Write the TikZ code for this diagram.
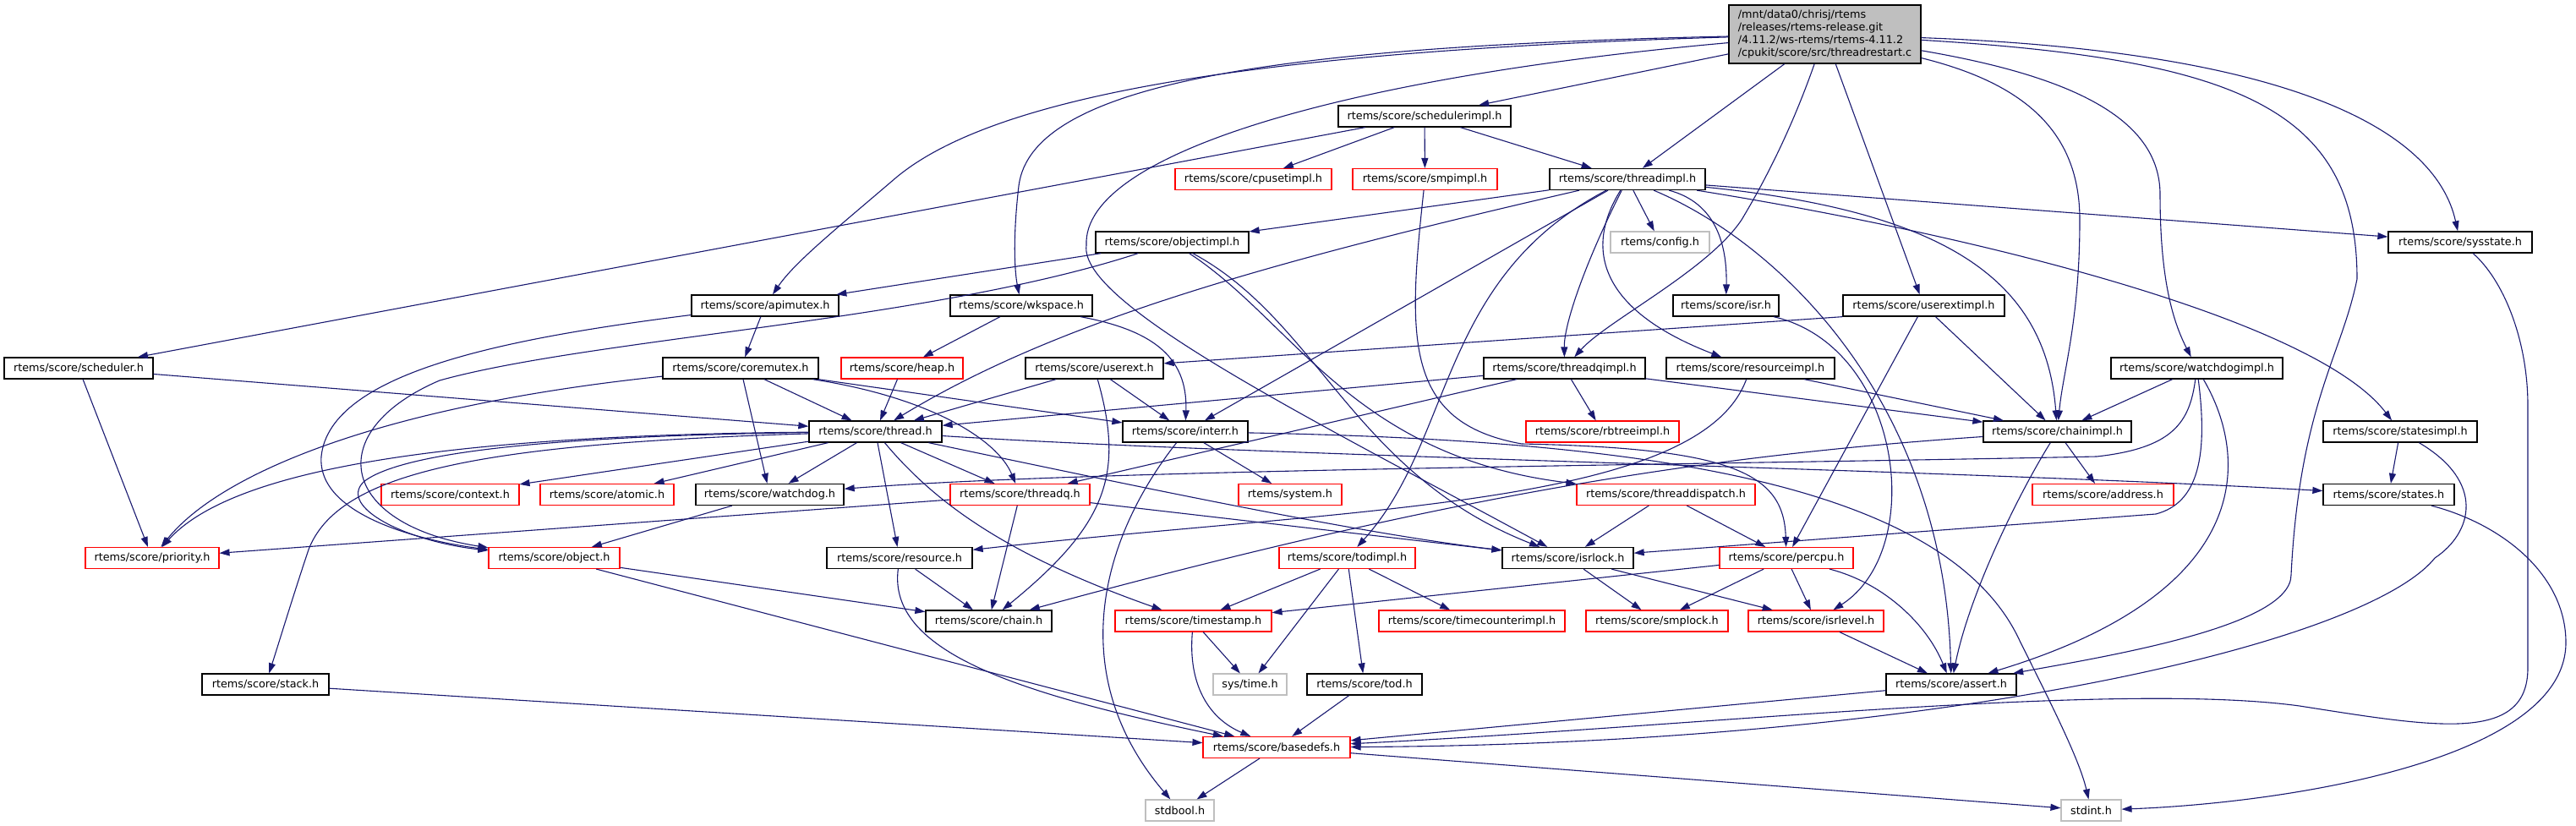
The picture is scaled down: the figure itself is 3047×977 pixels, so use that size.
\documentclass[tikz,border=0pt]{standalone}
\usepackage{fontspec}
\setmainfont{DejaVu Sans}
\usepackage{tikz}
\usetikzlibrary{arrows.meta}
\definecolor{inclblue}{HTML}{191970}
\definecolor{truncred}{HTML}{FF0000}
\definecolor{sysgray}{HTML}{BFBFBF}
\tikzset{>={Triangle[length=12pt,width=8pt]}}
\tikzset{
	hfile/.style={draw=black,line width=1.3pt,fill=white,minimum height=25pt,inner sep=0pt,font=\fontsize{12.8}{15}\selectfont},
	hred/.style={hfile,draw=truncred,line width=1.1pt},
	hgray/.style={hfile,draw=sysgray,line width=1.1pt},
	incl/.style={->,draw=inclblue,line width=1.1pt},
}

\begin{document}
\begin{tikzpicture}[x=1pt,y=-1pt]
	\useasboundingbox (0,0) rectangle (3047,977);

	% the file itself
	\node[hfile,fill=sysgray,minimum width=227pt,minimum height=69pt,align=left] (root) at (2158.5,40.5)
		{/mnt/data0/chrisj/rtems\\/releases/rtems-release.git\\/4.11.2/ws-rtems/rtems-4.11.2\\/cpukit/score/src/threadrestart.c};

	% included headers, row by row
	\node[hfile,minimum width=204pt] (schedimpl) at (1685,137.5) {rtems/score/schedulerimpl.h};
	\node[hred,minimum width=185pt] (cpusetimpl) at (1482.5,212) {rtems/score/cpusetimpl.h};
	\node[hred,minimum width=171pt] (smpimpl) at (1685.5,212) {rtems/score/smpimpl.h};
	\node[hfile,minimum width=184pt] (threadimpl) at (1925,212) {rtems/score/threadimpl.h};
	\node[hfile,minimum width=181pt] (objectimpl) at (1386.5,286.5) {rtems/score/objectimpl.h};
	\node[hgray,minimum width=117pt] (config) at (1963.5,286.5) {rtems/config.h};
	\node[hfile,minimum width=170pt] (sysstate) at (2910,286.5) {rtems/score/sysstate.h};
	\node[hfile,minimum width=174pt] (apimutex) at (905,361.5) {rtems/score/apimutex.h};
	\node[hfile,minimum width=168pt] (wkspace) at (1208,361.5) {rtems/score/wkspace.h};
	\node[hfile,minimum width=125pt] (isr) at (2041.5,361.5) {rtems/score/isr.h};
	\node[hfile,minimum width=191pt] (userextimpl) at (2275.5,361.5) {rtems/score/userextimpl.h};
	\node[hfile,minimum width=176pt] (scheduler) at (93,435.5) {rtems/score/scheduler.h};
	\node[hfile,minimum width=184pt] (coremutex) at (876,435.5) {rtems/score/coremutex.h};
	\node[hred,minimum width=144pt] (heap) at (1067,435.5) {rtems/score/heap.h};
	\node[hfile,minimum width=163pt] (userext) at (1294.5,435.5) {rtems/score/userext.h};
	\node[hfile,minimum width=191pt] (threadqimpl) at (1850.5,435.5) {rtems/score/threadqimpl.h};
	\node[hfile,minimum width=199pt] (resourceimpl) at (2070.5,435.5) {rtems/score/resourceimpl.h};
	\node[hfile,minimum width=203pt] (watchdogimpl) at (2598.5,435.5) {rtems/score/watchdogimpl.h};
	\node[hfile,minimum width=157pt] (thread) at (1035.5,510.5) {rtems/score/thread.h};
	\node[hfile,minimum width=148pt] (interr) at (1402,510.5) {rtems/score/interr.h};
	\node[hred,minimum width=181pt] (rbtreeimpl) at (1895.5,510.5) {rtems/score/rbtreeimpl.h};
	\node[hfile,minimum width=175pt] (chainimpl) at (2433.5,510.5) {rtems/score/chainimpl.h};
	\node[hfile,minimum width=182pt] (statesimpl) at (2839,510.5) {rtems/score/statesimpl.h};
	\node[hred,minimum width=163pt] (context) at (532.5,585) {rtems/score/context.h};
	\node[hred,minimum width=158pt] (atomic) at (718,585) {rtems/score/atomic.h};
	\node[hfile,minimum width=175pt] (watchdog) at (910.5,585) {rtems/score/watchdog.h};
	\node[hred,minimum width=165pt] (threadq) at (1206.5,585) {rtems/score/threadq.h};
	\node[hred,minimum width=122pt] (system) at (1526,585) {rtems/system.h};
	\node[hred,minimum width=211pt] (threaddisp) at (1970.5,585) {rtems/score/threaddispatch.h};
	\node[hred,minimum width=167pt] (address) at (2487.5,585) {rtems/score/address.h};
	\node[hfile,minimum width=155pt] (states) at (2825.5,585) {rtems/score/states.h};
	\node[hred,minimum width=158pt] (priority) at (180,660) {rtems/score/priority.h};
	\node[hred,minimum width=155pt] (object) at (655.5,660) {rtems/score/object.h};
	\node[hfile,minimum width=172pt] (resource) at (1064,660) {rtems/score/resource.h};
	\node[hred,minimum width=161pt] (todimpl) at (1593.5,660) {rtems/score/todimpl.h};
	\node[hfile,minimum width=155pt] (isrlock) at (1854.5,660) {rtems/score/isrlock.h};
	\node[hred,minimum width=158pt] (percpu) at (2113,660) {rtems/score/percpu.h};
	\node[hfile,minimum width=149pt] (chain) at (1169.5,734.5) {rtems/score/chain.h};
	\node[hred,minimum width=185pt] (timestamp) at (1411.5,734.5) {rtems/score/timestamp.h};
	\node[hred,minimum width=220pt] (tcimpl) at (1741,734.5) {rtems/score/timecounterimpl.h};
	\node[hred,minimum width=168pt] (smplock) at (1960,734.5) {rtems/score/smplock.h};
	\node[hred,minimum width=160pt] (isrlevel) at (2148,734.5) {rtems/score/isrlevel.h};
	\node[hfile,minimum width=150pt] (stack) at (314,809.5) {rtems/score/stack.h};
	\node[hgray,minimum width=87pt] (systime) at (1478.5,809.5) {sys/time.h};
	\node[hfile,minimum width=136pt] (tod) at (1614,809.5) {rtems/score/tod.h};
	\node[hfile,minimum width=154pt] (assert) at (2308,809.5) {rtems/score/assert.h};
	\node[hred,minimum width=174pt] (basedefs) at (1510,884) {rtems/score/basedefs.h};
	\node[hgray,minimum width=81pt] (stdbool) at (1395.5,958.5) {stdbool.h};
	\node[hgray,minimum width=71pt] (stdint) at (2473.5,958.5) {stdint.h};

	% includes of threadrestart.c
	\draw[incl] (root) -- (schedimpl);
	\draw[incl] (root) -- (threadimpl);
	\draw[incl] (root) -- (userextimpl);
	\draw[incl] (root) .. controls (2120,150) and (2090,210) .. (2060,260) .. controls (2020,320) and (1900,380) .. (threadqimpl);
	\draw[incl] (root) .. controls (1500,60) and (1180,110) .. (1060,210) .. controls (990,270) and (940,310) .. (apimutex);
	\draw[incl] (root) .. controls (1500,55) and (1220,100) .. (1205,220) .. controls (1198,280) and (1200,320) .. (wkspace);
	\draw[incl] (root) .. controls (1600,90) and (1280,180) .. (1285,290) .. controls (1275,360) and (1560,500) .. (isrlock);
	\draw[incl] (root) .. controls (2700,60) and (2880,150) .. (sysstate);
	\draw[incl] (root) .. controls (2400,100) and (2460,160) .. (2460,260) .. controls (2460,380) and (2440,440) .. (chainimpl);
	\draw[incl] (root) .. controls (2450,90) and (2555,140) .. (2555,230) .. controls (2555,330) and (2570,380) .. (watchdogimpl);
	\draw[incl] (root) .. controls (2650,70) and (2788,130) .. (2788,330) .. controls (2770,420) and (2720,480) .. (2710,680) .. controls (2710,740) and (2500,775) .. (assert);

	% schedulerimpl.h
	\draw[incl] (schedimpl) -- (scheduler);
	\draw[incl] (schedimpl) -- (cpusetimpl);
	\draw[incl] (schedimpl) -- (smpimpl);
	\draw[incl] (schedimpl) -- (threadimpl);
	\draw[incl] (smpimpl) .. controls (1665,400) and (1660,500) .. (1800,525) .. controls (2050,530) and (2110,560) .. (percpu);

	% threadimpl.h
	\draw[incl] (threadimpl) -- (objectimpl);
	\draw[incl] (threadimpl) -- (config);
	\draw[incl] (threadimpl) -- (interr);
	\draw[incl] (threadimpl) -- (sysstate);
	\draw[incl] (threadimpl) .. controls (1500,310) and (1250,380) .. (thread);
	\draw[incl] (threadimpl) .. controls (1700,330) and (1720,520) .. (todimpl);
	\draw[incl] (threadimpl) .. controls (1880,300) and (1850,380) .. (threadqimpl);
	\draw[incl] (threadimpl) .. controls (1870,300) and (1900,370) .. (resourceimpl);
	\draw[incl] (threadimpl) .. controls (2030,240) and (2043,290) .. (isr);
	\draw[incl] (threadimpl) .. controls (2300,250) and (2420,330) .. (chainimpl);
	\draw[incl] (threadimpl) .. controls (2110,290) and (2300,480) .. (assert);
	\draw[incl] (threadimpl) .. controls (2350,280) and (2740,380) .. (statesimpl);

	% objectimpl.h, apimutex.h, wkspace.h
	\draw[incl] (objectimpl) -- (apimutex);
	\draw[incl] (objectimpl) .. controls (1100,380) and (700,400) .. (520,450) .. controls (380,510) and (400,620) .. (object);
	\draw[incl] (objectimpl) .. controls (1560,380) and (1600,560) .. (isrlock);
	\draw[incl] (objectimpl) .. controls (1530,380) and (1600,540) .. (threaddisp);
	\draw[incl] (apimutex) -- (coremutex);
	\draw[incl] (apimutex) .. controls (600,400) and (390,440) .. (380,540) .. controls (375,610) and (500,640) .. (object);
	\draw[incl] (wkspace) -- (heap);
	\draw[incl] (wkspace) .. controls (1360,390) and (1405,420) .. (interr);

	% isr.h, userextimpl.h
	\draw[incl] (isr) .. controls (2250,410) and (2280,650) .. (isrlevel);
	\draw[incl] (userextimpl.south west) -- (userext);
	\draw[incl] (userextimpl) -- (chainimpl);
	\draw[incl] (userextimpl) -- (percpu);

	% scheduler.h, coremutex.h, heap.h, userext.h
	\draw[incl] (scheduler) -- (priority);
	\draw[incl] (scheduler) -- (thread);
	\draw[incl] (coremutex) .. controls (450,480) and (260,560) .. (priority);
	\draw[incl] (coremutex) -- (thread);
	\draw[incl] (coremutex) -- (watchdog);
	\draw[incl] (coremutex) -- (interr);
	\draw[incl] (coremutex) .. controls (1100,470) and (1180,520) .. (threadq);
	\draw[incl] (heap) -- (thread);
	\draw[incl] (userext) -- (thread);
	\draw[incl] (userext) -- (interr);
	\draw[incl] (userext) .. controls (1330,560) and (1310,620) .. (chain);

	% threadqimpl.h, resourceimpl.h, watchdogimpl.h
	\draw[incl] (threadqimpl) -- (thread);
	\draw[incl] (threadqimpl) -- (threadq);
	\draw[incl] (threadqimpl) -- (rbtreeimpl);
	\draw[incl] (threadqimpl) -- (chainimpl);
	\draw[incl] (resourceimpl) -- (chainimpl);
	\draw[incl] (resourceimpl) .. controls (2010,600) and (1600,600) .. (resource);
	\draw[incl] (watchdogimpl) -- (chainimpl);
	\draw[incl] (watchdogimpl) .. controls (2590,500) and (2570,530) .. (2480,540) .. controls (2000,550) and (1300,555) .. (watchdog);
	\draw[incl] (watchdogimpl) .. controls (2612,540) and (2600,595) .. (2550,608) -- (isrlock);
	\draw[incl] (watchdogimpl) .. controls (2660,540) and (2670,700) .. (assert);

	% thread.h
	\draw[incl] (thread) .. controls (500,515) and (270,560) .. (priority);
	\draw[incl] (thread) .. controls (700,515) and (480,530) .. (430,570) .. controls (400,600) and (480,640) .. (object);
	\draw[incl] (thread) .. controls (560,525) and (400,560) .. (365,650) .. controls (345,710) and (330,760) .. (stack);
	\draw[incl] (thread) -- (context);
	\draw[incl] (thread) -- (atomic);
	\draw[incl] (thread) -- (watchdog);
	\draw[incl] (thread) -- (resource);
	\draw[incl] (thread) -- (threadq);
	\draw[incl] (thread) .. controls (1110,600) and (1200,660) .. (timestamp);
	\draw[incl] (thread) .. controls (1320,570) and (1600,630) .. (isrlock);
	\draw[incl] (thread) .. controls (1500,540) and (2300,555) .. (states);

	% interr.h, chainimpl.h, statesimpl.h
	\draw[incl] (interr) -- (system);
	\draw[incl] (interr) .. controls (1300,640) and (1260,800) .. (stdbool);
	\draw[incl] (interr) .. controls (1900,520) and (2300,560) .. (2390,760) .. controls (2430,840) and (2460,900) .. (stdint);
	\draw[incl] (chainimpl) .. controls (2000,540) and (1700,590) .. (chain);
	\draw[incl] (chainimpl) -- (address);
	\draw[incl] (chainimpl) .. controls (2390,580) and (2330,700) .. (assert);
	\draw[incl] (statesimpl) -- (states);
	\draw[incl] (statesimpl) .. controls (2940,570) and (2925,630) .. (2880,660) .. controls (2800,760) and (2300,880) .. (basedefs);
	\draw[incl] (sysstate) .. controls (2960,330) and (2990,400) .. (2990,480) -- (2990,790) .. controls (2990,880) and (2880,860) .. (2720,835) .. controls (2500,805) and (2000,860) .. (basedefs);
	\draw[incl] (states) .. controls (2960,620) and (3035,680) .. (3035,760) .. controls (3035,900) and (2700,950) .. (stdint);

	% middle rows
	\draw[incl] (watchdog) -- (object);
	\draw[incl] (threadq) -- (priority);
	\draw[incl] (threadq) -- (chain);
	\draw[incl] (threadq) -- (isrlock);
	\draw[incl] (threaddisp) -- (isrlock);
	\draw[incl] (threaddisp) -- (percpu);
	\draw[incl] (object) -- (chain);
	\draw[incl] (object) -- (basedefs);
	\draw[incl] (resource) -- (chain);
	\draw[incl] (resource) .. controls (1050,770) and (1200,820) .. (basedefs);
	\draw[incl] (todimpl) -- (timestamp);
	\draw[incl] (todimpl) -- (systime);
	\draw[incl] (todimpl) -- (tod);
	\draw[incl] (todimpl) -- (tcimpl);
	\draw[incl] (isrlock) -- (smplock);
	\draw[incl] (isrlock) -- (isrlevel);
	\draw[incl] (percpu) -- (timestamp);
	\draw[incl] (percpu) -- (smplock);
	\draw[incl] (percpu) -- (isrlevel);
	\draw[incl] (percpu) .. controls (2230,690) and (2280,740) .. (assert);

	% bottom rows
	\draw[incl] (timestamp) -- (systime);
	\draw[incl] (timestamp) .. controls (1405,810) and (1430,850) .. (basedefs);
	\draw[incl] (isrlevel) -- (assert);
	\draw[incl] (stack) -- (basedefs);
	\draw[incl] (tod) -- (basedefs);
	\draw[incl] (assert) -- (basedefs);
	\draw[incl] (basedefs) -- (stdbool);
	\draw[incl] (basedefs) -- (stdint);
\end{tikzpicture}
\end{document}
